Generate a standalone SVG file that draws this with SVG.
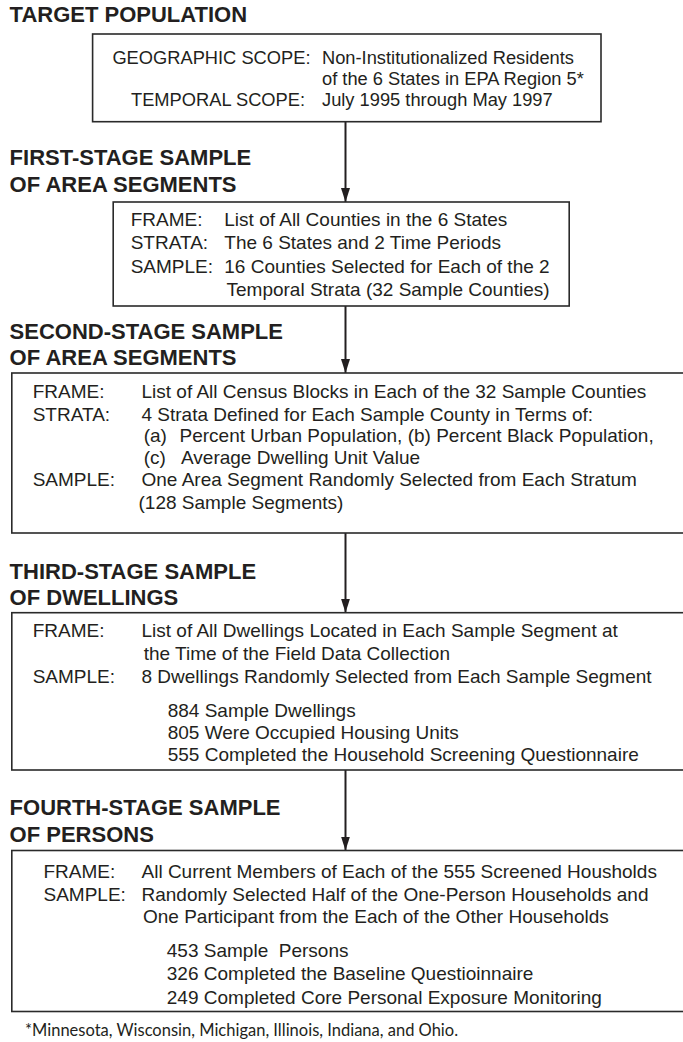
<svg xmlns="http://www.w3.org/2000/svg" width="683" height="1042" viewBox="0 0 683 1042">
  <defs>
    <marker id="arrow" viewBox="0 0 14 10" refX="14" refY="5" markerWidth="14" markerHeight="10" markerUnits="userSpaceOnUse" orient="auto">
      <path d="M0,0.5 L14,5 L0,9.5 Z" fill="#231f20"/>
    </marker>
    <style>
      .title { font-family: "Liberation Sans", Arial, sans-serif; font-weight: bold; font-size: 22px; fill: #231f20; }
      .body { font-family: "Liberation Sans", Arial, sans-serif; font-size: 19px; fill: #231f20; }
      .small { font-size: 18.3px; }
      .box { fill: #ffffff; stroke: #2a2a2a; stroke-width: 1.6; }
      .conn { stroke: #231f20; stroke-width: 2; fill: none; }
      .note { font-family: Lato, "Open Sans", sans-serif; font-size: 16.5px; fill: #231f20; }
    </style>
  </defs>
  <rect width="683" height="1042" fill="#ffffff"/>

  <!-- stage headings -->
  <g id="headings">
    <text class="title" x="9.6" y="22.3">TARGET POPULATION</text>
    <text class="title" x="9.6" y="165">FIRST-STAGE SAMPLE</text>
    <text class="title" x="9.6" y="191.7">OF AREA SEGMENTS</text>
    <text class="title" x="9.6" y="339">SECOND-STAGE SAMPLE</text>
    <text class="title" x="9.6" y="365">OF AREA SEGMENTS</text>
    <text class="title" x="9.6" y="579.3">THIRD-STAGE SAMPLE</text>
    <text class="title" x="9.6" y="605">OF DWELLINGS</text>
    <text class="title" x="9.6" y="815">FOURTH-STAGE SAMPLE</text>
    <text class="title" x="9.6" y="841.7">OF PERSONS</text>
  </g>

  <!-- connectors between the stages -->
  <g id="connectors">
    <line class="conn" x1="345.5" y1="122" x2="345.5" y2="202" marker-end="url(#arrow)"/>
    <line class="conn" x1="345.5" y1="306" x2="345.5" y2="373" marker-end="url(#arrow)"/>
    <line class="conn" x1="345.5" y1="533" x2="345.5" y2="612.7" marker-end="url(#arrow)"/>
    <line class="conn" x1="345.5" y1="770" x2="345.5" y2="850.5" marker-end="url(#arrow)"/>
  </g>

  <!-- target population -->
  <g id="target">
    <rect class="box" x="92.6" y="34" width="508.4" height="87.7"/>
    <text class="body small" x="112.4" y="64">GEOGRAPHIC SCOPE:</text>
    <text class="body small" x="322" y="64">Non-Institutionalized Residents</text>
    <text class="body small" x="322" y="85">of the 6 States in EPA Region 5*</text>
    <text class="body small" x="131" y="106">TEMPORAL SCOPE:</text>
    <text class="body small" x="322" y="106">July 1995 through May 1997</text>
  </g>

  <!-- first stage -->
  <g id="stage1">
    <rect class="box" x="113.2" y="202" width="456" height="104"/>
    <text class="body" x="130.7" y="226">FRAME:</text>
    <text class="body" x="224.3" y="226">List of All Counties in the 6 States</text>
    <text class="body" x="130.7" y="249.3">STRATA:</text>
    <text class="body" x="224.3" y="249.3">The 6 States and 2 Time Periods</text>
    <text class="body" x="130.7" y="272.5">SAMPLE:</text>
    <text class="body" x="224.3" y="272.5">16 Counties Selected for Each of the 2</text>
    <text class="body" x="226.5" y="295.7">Temporal Strata (32 Sample Counties)</text>
  </g>

  <!-- second stage -->
  <g id="stage2">
    <rect class="box" x="11.8" y="373" width="673" height="160"/>
    <text class="body" x="32.7" y="398">FRAME:</text>
    <text class="body" x="141.5" y="398">List of All Census Blocks in Each of the 32 Sample Counties</text>
    <text class="body" x="32.7" y="420.5">STRATA:</text>
    <text class="body" x="141.5" y="420.5">4 Strata Defined for Each Sample County in Terms of:</text>
    <text class="body" y="442"><tspan x="143.7">(a)</tspan><tspan x="179.5">Percent Urban Population, (b) Percent Black Population,</tspan></text>
    <text class="body" y="464"><tspan x="143.7">(c)</tspan><tspan x="181">Average Dwelling Unit Value</tspan></text>
    <text class="body" x="32.7" y="486">SAMPLE:</text>
    <text class="body" x="141.5" y="486">One Area Segment Randomly Selected from Each Stratum</text>
    <text class="body" x="138.5" y="508.5">(128 Sample Segments)</text>
  </g>

  <!-- third stage -->
  <g id="stage3">
    <rect class="box" x="11.8" y="612.7" width="673" height="157.3"/>
    <text class="body" x="32.7" y="636.5">FRAME:</text>
    <text class="body" x="141.5" y="636.5">List of All Dwellings Located in Each Sample Segment at</text>
    <text class="body" x="143.7" y="660">the Time of the Field Data Collection</text>
    <text class="body" x="32.7" y="683">SAMPLE:</text>
    <text class="body" x="141.5" y="683">8 Dwellings Randomly Selected from Each Sample Segment</text>
    <text class="body" x="167.7" y="716.5">884 Sample Dwellings</text>
    <text class="body" x="167.7" y="738.5">805 Were Occupied Housing Units</text>
    <text class="body" x="167.7" y="760.5">555 Completed the Household Screening Questionnaire</text>
  </g>

  <!-- fourth stage -->
  <g id="stage4">
    <rect class="box" x="11.8" y="850.5" width="673" height="161"/>
    <text class="body" x="43.5" y="878.3">FRAME:</text>
    <text class="body" x="141.5" y="878.3">All Current Members of Each of the 555 Screened Housholds</text>
    <text class="body" x="43.5" y="900.5">SAMPLE:</text>
    <text class="body" x="141.5" y="900.5">Randomly Selected Half of the One-Person Households and</text>
    <text class="body" x="143" y="923">One Participant from the Each of the Other Households</text>
    <text class="body" x="166.8" y="957" xml:space="preserve">453 Sample  Persons</text>
    <text class="body" x="166.8" y="980">326 Completed the Baseline Questioinnaire</text>
    <text class="body" x="166.8" y="1003.5">249 Completed Core Personal Exposure Monitoring</text>
  </g>

  <!-- footnote -->
  <g id="footnote">
    <text class="note" x="25" y="1036">*Minnesota, Wisconsin, Michigan, Illinois, Indiana, and Ohio.</text>
  </g>
</svg>
